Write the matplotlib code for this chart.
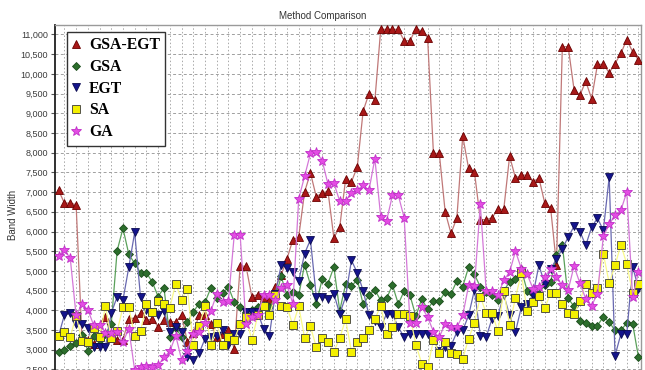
import matplotlib.pyplot as plt
import numpy as np
from matplotlib.lines import Line2D
from matplotlib.ticker import FuncFormatter

# band width per test case, 100 cases
cases = np.arange(1, 101)

gsa_egt = [7050, 6720, 6720, 6680, 3300, 3250, 3150, 3350, 3830, 3300,
           3250, 3250, 3790, 3800, 3920, 3750, 3780, 3580, 3750, 3710,
           3710, 3880, 3200, 3430, 3880, 3880, 3650, 3330, 3400, 3490,
           3020, 5120, 5120, 4350, 4400, 4330, 4250, 4590, 4890, 5310,
           5790, 5860, 7000, 7490, 6880, 6980, 7020, 5840, 6110, 7320,
           7260, 7640, 9060, 9500, 9330, 11130, 11130, 11130, 11130, 10840,
           10840, 11150, 11090, 10920, 7980, 7980, 6500, 5950, 6350, 8420,
           7600, 7510, 6300, 6300, 6350, 6560, 6560, 7910, 7360, 7430,
           7430, 7260, 7360, 6720, 6600, 5150, 10690, 10690, 9600, 9460,
           9810, 9370, 10240, 10240, 10030, 10260, 10520, 10870, 10560, 10350]

gsa = [2940, 3000, 3090, 3180, 3370, 2980, 3360, 3250, 3400, 3660,
       5510, 6080, 5420, 5190, 4950, 4950, 4720, 4350, 4570, 3320,
       3550, 3330, 3700, 3960, 4170, 4200, 4570, 4300, 4430, 4590,
       4210, 4090, 3950, 4000, 4080, 4120, 4080, 4300, 4860, 4380,
       4460, 4380, 5160, 4650, 4170, 4790, 4680, 5100, 3990, 4660,
       4610, 4780, 4150, 4380, 4520, 4250, 4300, 4640, 4160, 4490,
       4380, 3850, 4290, 4030, 4240, 4240, 4460, 4420, 4750, 4600,
       5100, 4910, 4600, 4460, 4400, 4270, 4500, 4720, 4800, 5040,
       4490, 4420, 4420, 4650, 4720, 5400, 5670, 4300, 4100, 3740,
       3680, 3610, 3610, 3840, 3700, 3490, 3490, 3680, 3660, 2810]

egt = [3350, 3880, 3920, 3660, 3650, 3560, 3060, 3060, 3060, 3930,
       4340, 4260, 5100, 5980, 4330, 4000, 3950, 3870, 3990, 3450,
       3570, 3450, 2810, 2730, 2910, 3280, 3320, 3350, 3490, 3130,
       3400, 3400, 3950, 3950, 3950, 3530, 3360, 4420, 5140, 5080,
       4970, 4740, 5440, 5790, 4350, 4350, 4290, 4420, 3910, 4340,
       5270, 4950, 4500, 3870, 3740, 3570, 3910, 3910, 3570, 3320,
       3400, 3400, 3400, 3410, 3240, 2960, 3070, 3100, 3450, 3490,
       3870, 4520, 3360, 3320, 3790, 3850, 4400, 3870, 3450, 4080,
       4150, 4400, 5140, 4680, 5050, 5300, 5560, 5860, 6130, 6000,
       5650, 6110, 6340, 6030, 7380, 2850, 3400, 3400, 5110, 4550]

sa = [3340, 3450, 3320, 3860, 3230, 3190, 3560, 3320, 4100, 3300,
      3470, 4080, 4080, 3350, 3470, 4160, 3950, 4240, 4170, 4070,
      4680, 4260, 4550, 3110, 3600, 4100, 3110, 3690, 3130, 3320,
      3250, 3660, 3830, 3240, 3870, 4110, 3870, 4380, 4110, 4090,
      3620, 4100, 3310, 3590, 3070, 3300, 3190, 2950, 3290, 3770,
      2950, 3200, 3290, 3490, 3770, 4120, 3400, 3570, 3900, 3900,
      3850, 3130, 2650, 2550, 3240, 2910, 3190, 2910, 2880, 2770,
      3280, 3680, 4350, 3930, 3930, 3470, 4500, 3620, 4320, 4940,
      3980, 4210, 4360, 4060, 4430, 4430, 4150, 3930, 3900, 4230,
      4680, 4440, 4560, 5440, 4690, 5140, 5670, 5170, 4440, 4680]

ga = [5370, 5540, 5320, 3870, 4150, 4020, 3620, 3640, 3420, 3420,
      3440, 3200, 3530, 2480, 2550, 2580, 2560, 2600, 2810, 2960,
      3360, 2750, 2980, 3400, 3450, 3680, 3980, 4410, 4220, 4240,
      5920, 5920, 3650, 3830, 3890, 4380, 4380, 4250, 4560, 4630,
      4170, 6830, 7400, 7980, 8020, 7800, 7200, 7230, 6770, 6770,
      6980, 7060, 7170, 7050, 7850, 6370, 6270, 6920, 6920, 6350,
      3680, 3680, 4080, 3830, 3460, 3320, 3660, 3570, 3570, 3870,
      4630, 4620, 6690, 4500, 4480, 4380, 4760, 4970, 5500, 5060,
      4910, 4550, 4590, 4840, 5050, 4840, 4630, 4520, 5120, 4690,
      4290, 4120, 4420, 5880, 6180, 6410, 6540, 7000, 4340, 4970]

names = ['GSA-EGT', 'GSA', 'EGT', 'SA', 'GA']
series = [gsa_egt, gsa, egt, sa, ga]

# line colour, marker, marker size, marker face, marker edge
styles = [
    ('#c07878', '^', 5.2, '#a81818', '#6a0000'),
    ('#5aa05a', 'D', 4.2, '#2c6e2c', '#1c4c1c'),
    ('#6868b0', 'v', 5.2, '#14148c', '#0a0a50'),
    ('#fafa8a', 's', 5.8, '#f4f000', '#3a3a3a'),
    ('#d478d8', '*', 7.5, '#e44ce4', '#c030c8'),
]

fig = plt.figure(figsize=(6.45, 3.70), dpi=100)
ax = fig.add_axes([0.0853, -0.0517, 0.9085, 0.9841])

handles = []
for name, vals, (lc, mk, ms, mf, me) in zip(names, series, styles):
    ax.plot(cases, vals, color=lc, lw=0.9, marker=mk, ms=ms,
            mfc=mf, mec=me, mew=0.6, zorder=3)
    handles.append(Line2D([], [], linestyle='none', marker=mk, ms=ms,
                          mfc=mf, mec=me, mew=0.6, label=name))

ax.set_xlim(0.4, 100.43)
ax.set_ylim(2000, 11240)

ax.set_yticks(np.arange(2500, 11001, 500))
ax.yaxis.set_major_formatter(FuncFormatter(lambda v, p: f"{int(v):,}"))
ax.set_xticks(np.arange(2, 101, 2))
ax.tick_params(axis='x', length=0, labelbottom=False)
ax.tick_params(axis='y', length=3, width=0.8, color='#555555',
               labelsize=6.5, labelcolor='#3c3c3c', pad=2)
for lab in ax.get_yticklabels():
    lab.set_family('Liberation Sans')

ax.xaxis.grid(True, color='#a8a8a8', linestyle=(0, (1.5, 2.2)), linewidth=0.7)
ax.yaxis.grid(True, color='#a0a0a0', linestyle=(0, (3, 2.5)), linewidth=0.7)
ax.set_axisbelow(True)

ax.spines['left'].set_color('#202020')
ax.spines['left'].set_linewidth(1.3)
for s in ('top', 'right', 'bottom'):
    ax.spines[s].set_color('#9a9a9a')
    ax.spines[s].set_linewidth(1.0)

ax.set_ylabel('Band Width', fontsize=7, family='Liberation Sans', color='#333333')
ax.yaxis.set_label_coords(-0.063, 0.478)

fig.text(0.5, 0.957, 'Method Comparison', ha='center', va='center',
         fontsize=7, family='Liberation Sans', color='#333333')

leg = ax.legend(handles=handles, loc='upper left', bbox_to_anchor=(0.0205, 0.981),
                borderaxespad=0, frameon=True, fancybox=False, framealpha=1,
                edgecolor='#333333', borderpad=0.35, handlelength=0.45,
                handletextpad=0.6, labelspacing=0.36,
                prop={'family': 'Liberation Serif', 'weight': 'bold', 'size': 11.3})
leg.get_frame().set_linewidth(1.0)
leg.set_zorder(5)

fig.savefig('out.png', dpi=100)
